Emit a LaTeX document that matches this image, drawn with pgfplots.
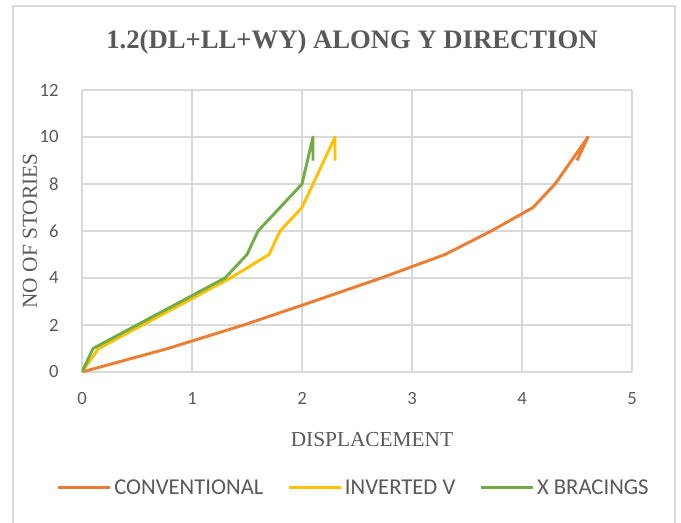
\documentclass[border=0pt]{standalone}
\usepackage{pgfplots}
\pgfplotsset{compat=1.18}
\usepackage{fontspec}
\setmainfont{Liberation Serif}
\newfontfamily\calib{Carlito}
\definecolor{corange}{HTML}{ED7D31}
\definecolor{cyellow}{HTML}{FFC000}
\definecolor{cgreen}{HTML}{70AD47}
\definecolor{ctext}{HTML}{595959}
\definecolor{cgrid}{HTML}{D9D9D9}
\begin{document}
\begin{tikzpicture}[x=0.75pt,y=0.75pt]
\useasboundingbox (0,0) rectangle (681,522);
\draw[cgrid, line width=1.5pt] (13,-10) -- (13,516) -- (675,516) -- (675,-10);
\begin{axis}[
  at={(61.5pt,112.5pt)}, anchor=south west,
  scale only axis, width=412.5pt, height=211.5pt,
  xmin=0, xmax=5, ymin=0, ymax=12,
  xtick={0,1,2,3,4,5}, ytick={0,2,4,6,8,10,12},
  grid=major, major grid style={cgrid, line width=0.9pt},
  axis x line=bottom, axis y line=left,
  x axis line style={-, draw=cgrid, line width=1pt},
  y axis line style={draw=none},
  major tick length=0pt,
  tick label style={font=\calib\fontsize{14}{16}\selectfont, text=ctext},
  /pgf/number format/assume math mode=true,
  xticklabel style={yshift=-12pt},
  yticklabel style={xshift=-14pt},
  legend columns=3,
  legend style={draw=none, fill=none, at={(0.4945,-0.411)}, anchor=center,
    font=\calib\fontsize{17}{19}\selectfont, text=ctext,
    /tikz/every even column/.append style={column sep=16pt}},
  legend image code/.code={\draw[#1, line width=2.2pt] (0pt,0pt) -- (39pt,0pt);},
]
\addplot[corange, line width=2.2pt, line join=round] coordinates {
 (0,0) (0.78,1) (1.47,2) (2.1,3) (2.72,4) (3.3,5) (3.72,6) (4.1,7) (4.3,8) (4.6,10) (4.5,9)};
\addlegendentry{CONVENTIONAL}
\addplot[cyellow, line width=2.2pt, line join=round] coordinates {
 (0,0) (0.15,1) (1.35,4) (1.7,5) (1.8,6) (2.0,7) (2.3,10) (2.3,9)};
\addlegendentry{INVERTED V}
\addplot[cgreen, line width=2.2pt, line join=round] coordinates {
 (0,0) (0.1,1) (1.3,4) (1.5,5) (1.6,6) (1.8,7) (2.0,8) (2.1,10) (2.1,9)};
\addlegendentry{X BRACINGS}
\end{axis}
\node[text=ctext, font=\bfseries\fontsize{20}{22}\selectfont] at (352,480) {1.2(DL+LL+WY) ALONG Y DIRECTION};
\node[text=ctext, font=\fontsize{16}{18}\selectfont] at (372,82) {DISPLACEMENT};
\node[text=ctext, font=\fontsize{16}{18}\selectfont, rotate=90] at (30,291) {NO OF STORIES};
\end{tikzpicture}
\end{document}
